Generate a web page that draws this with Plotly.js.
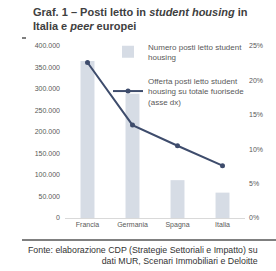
<!DOCTYPE html>
<html>
<head>
<meta charset="utf-8">
<script src="https://cdn.plot.ly/plotly-3.0.1.min.js"></script>
<style>html,body{margin:0;padding:0;background:#fff;}#chart{width:276px;height:271px;}</style>
</head>
<body>
<div id="chart"></div>
<script>
const categories = ["Francia", "Germania", "Spagna", "Italia"];
const postiLetto = [365000, 289000, 88000, 59000];
const quotaFuorisede = [22.6, 13.5, 10.5, 7.6];
const leftTicks = [0, 50000, 100000, 150000, 200000, 250000, 300000, 350000, 400000];
const rightTicks = [0, 5, 10, 15, 20, 25];
const rightTickText = ["0%", "5%", "10%", "15%", "20%", "25%"];
const barName = "Numero posti letto student<br>housing";
const lineName = "Offerta posti letto student<br>housing su totale fuorisede<br>(asse dx)";
const titleText = "<b>Graf. 1 \u2013 Posti letto in <i>student housing</i> in<br>Italia e <i>peer</i> europei</b>";
const sourceText = "Fonte: elaborazione CDP (Strategie Settoriali e Impatto) su<br>dati MUR, Scenari Immobiliari e Deloitte";

const grey = "#595959";
const font = "Liberation Sans, Arial, sans-serif";

const traces = [
  {
    type: "bar", x: categories, y: postiLetto, name: barName,
    marker: {color: "#d6dce5"}, width: 0.31, legend: "legend"
  },
  {
    type: "scatter", mode: "lines+markers", x: categories, y: quotaFuorisede, name: lineName,
    yaxis: "y2", line: {color: "#3e4c6c", width: 2}, marker: {color: "#3e4c6c", size: 5},
    legend: "legend2"
  }
];

const layout = {
  width: 276, height: 271,
  margin: {l: 65, r: 31, t: 46, b: 53},
  paper_bgcolor: "#fff", plot_bgcolor: "#fff",
  separators: ",.",
  font: {family: font, size: 7, color: grey},
  showlegend: true,
  xaxis: {
    showline: true, linecolor: "#d9d9d9", linewidth: 1, ticks: "",
    showgrid: false, zeroline: false, tickfont: {size: 7, color: grey}
  },
  yaxis: {
    range: [0, 400000], tickvals: leftTicks, tickformat: ",.0f",
    showgrid: false, zeroline: false, showline: false, ticks: "",
    ticklabelstandoff: 4, tickfont: {size: 7, color: grey}
  },
  yaxis2: {
    range: [0, 25], tickvals: rightTicks, ticktext: rightTickText, overlaying: "y", side: "right",
    showgrid: false, zeroline: false, showline: false, ticks: "",
    ticklabelstandoff: 3, tickfont: {size: 7, color: grey}
  },
  legend: {
    x: 0.239, xanchor: "left", y: 1.03 + 6/172, yanchor: "top", bgcolor: "rgba(0,0,0,0)",
    itemwidth: 30, font: {size: 8, color: grey}
  },
  legend2: {
    x: 0.239, xanchor: "left", y: 0.82 + 8/172, yanchor: "top", bgcolor: "rgba(0,0,0,0)",
    itemwidth: 30, font: {size: 8, color: grey}
  },
  shapes: [
    {type: "line", xref: "paper", yref: "paper", x0: -43/180, x1: -39/180, y0: 1 + 8/172, y1: 1 + 8/172,
     line: {color: "#000", width: 1}},
    {type: "line", xref: "paper", yref: "paper", x0: -43/180, x1: 215/180, y0: -22/172, y1: -22/172,
     line: {color: "#000", width: 1}}
  ],
  annotations: [
    {text: titleText, xref: "paper", yref: "paper", x: -34/180, xanchor: "left", align: "left",
     y: (218 - 4)/172, yanchor: "top", showarrow: false,
     font: {family: font, size: 11, color: "#404040"}},
    {text: sourceText, xref: "paper", yref: "paper", x: 195/180, xanchor: "right", align: "right",
     y: -25/172, yanchor: "top", showarrow: false, font: {family: font, size: 8.8, color: "#333"}}
  ]
};

Plotly.newPlot("chart", traces, layout, {displayModeBar: false, staticPlot: true});
</script>
</body>
</html>
